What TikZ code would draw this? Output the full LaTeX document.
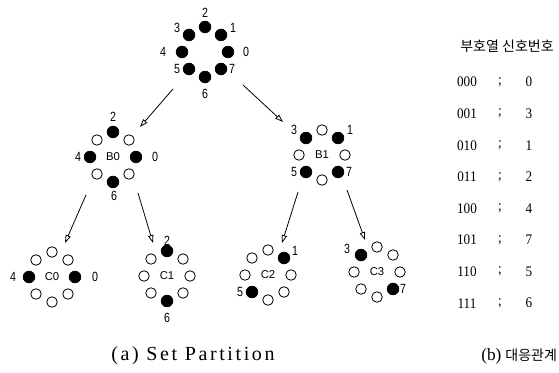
\documentclass[tikz,border=0pt]{standalone}
\usepackage{fontspec}
\setmainfont{Liberation Serif}
\newfontfamily\krfont{Noto Sans CJK KR}
\newfontfamily\lblfont[FakeStretch=0.8]{Liberation Sans}
\newfontfamily\ctrfont{Liberation Sans}
\newfontfamily\tblfont[FakeStretch=0.9]{Liberation Serif}
\newfontfamily\capfont[LetterSpace=13]{Liberation Serif}
\usetikzlibrary{arrows.meta,calc}

\tikzset{
  dotF/.style={circle, fill=black, draw=black, line width=0.5pt, inner sep=0pt, minimum size=8.8pt},
  dotO/.style={circle, fill=white, draw=black, line width=0.6pt, inner sep=0pt, minimum size=7.9pt},
  lbl/.style={inner sep=0pt, font=\lblfont\fontsize{10}{10}\selectfont},
  ctr/.style={inner sep=0pt, font=\ctrfont\fontsize{8.5}{8.5}\selectfont},
  arr/.style={draw, line width=0.6pt, -{Triangle[open,length=6pt,width=4pt]}},
  tbl/.style={inner sep=0pt, font=\tblfont\fontsize{11}{11}\selectfont},
  krhead/.style={inner sep=0pt, font=\krfont\fontsize{10.5}{10.5}\selectfont},
  captxt/.style={inner sep=0pt, font=\capfont\fontsize{15}{15}\selectfont},
}

% name, cx, cy, mask of filled dots, centre text
\newcommand\ringgroup[5]{%
  \foreach \k/\dx/\dy in {0/23/0,1/16/-17,2/0/-25,3/-16/-17,4/-23/0,5/-16/17,6/0/25,7/16/17}{
    \pgfmathtruncatemacro\bit{mod(floor(#4/(2^\k)),2)}
    \ifnum\bit=1
      \node[dotF] (#1d\k) at ({#2+\dx},{#3+\dy}) {};
    \else
      \node[dotO] (#1d\k) at ({#2+\dx},{#3+\dy}) {};
    \fi
  }
  \node[ctr] (#1) at (#2,#3) {#5};
}

\begin{document}
\begin{tikzpicture}[x=0.75pt,y=-0.75pt]
\useasboundingbox (0,0) rectangle (559,373);

% ---- groups ----
\ringgroup{T}{205}{52}{255}{}
\ringgroup{B0}{113}{157}{85}{B0}
\ringgroup{B1}{322}{155}{170}{B1}
\ringgroup{C0}{52}{277}{17}{C0}
\ringgroup{C1}{167}{276}{68}{C1}
\ringgroup{C2}{268}{275}{34}{C2}
\ringgroup{C3}{377}{272}{136}{C3}

% ---- dot labels ----
\node[lbl] (Tl2) at ($(Td2)+(0,-14)$) {2};
\node[lbl] (Tl1) at ($(Td1)+(12,-7)$) {1};
\node[lbl] (Tl0) at ($(Td0)+(18,0)$) {0};
\node[lbl] (Tl7) at ($(Td7)+(11,0)$) {7};
\node[lbl] (Tl6) at ($(Td6)+(0,17)$) {6};
\node[lbl] (Tl5) at ($(Td5)+(-12,0)$) {5};
\node[lbl] (Tl4) at ($(Td4)+(-19,0)$) {4};
\node[lbl] (Tl3) at ($(Td3)+(-12,-7)$) {3};

\node[lbl] (B0l2) at ($(B0d2)+(0,-15)$) {2};
\node[lbl] (B0l4) at ($(B0d4)+(-12,0)$) {4};
\node[lbl] (B0l0) at ($(B0d0)+(19,0)$) {0};
\node[lbl] (B0l6) at ($(B0d6)+(1,14)$) {6};

\node[lbl] (B1l3) at ($(B1d3)+(-12,-8)$) {3};
\node[lbl] (B1l1) at ($(B1d1)+(12,-8)$) {1};
\node[lbl] (B1l5) at ($(B1d5)+(-12,0)$) {5};
\node[lbl] (B1l7) at ($(B1d7)+(11,0)$) {7};

\node[lbl] (C0l4) at ($(C0d4)+(-16,0)$) {4};
\node[lbl] (C0l0) at ($(C0d0)+(20,0)$) {0};

\node[lbl] (C1l2) at ($(C1d2)+(0,-10)$) {2};
\node[lbl] (C1l6) at ($(C1d6)+(0,17)$) {6};

\node[lbl] (C2l1) at ($(C2d1)+(11,-7)$) {1};
\node[lbl] (C2l5) at ($(C2d5)+(-12,0)$) {5};

\node[lbl] (C3l3) at ($(C3d3)+(-14,-6)$) {3};
\node[lbl] (C3l7) at ($(C3d7)+(10,0)$) {7};

% ---- arrows ----
\coordinate (a1s) at (173,89);  \coordinate (a1e) at (140,127);
\coordinate (a2s) at (243,85);  \coordinate (a2e) at (283,122);
\coordinate (a3s) at (86,195);  \coordinate (a3e) at (65,243);
\coordinate (a4s) at (138,193); \coordinate (a4e) at (153,243);
\coordinate (a5s) at (298,192); \coordinate (a5e) at (282,243);
\coordinate (a6s) at (347,190); \coordinate (a6e) at (365,240);
\draw[arr] (a1s) -- (a1e);
\draw[arr] (a2s) -- (a2e);
\draw[arr] (a3s) -- (a3e);
\draw[arr] (a4s) -- (a4e);
\draw[arr] (a5s) -- (a5e);
\draw[arr] (a6s) -- (a6e);

% ---- table ----
\node[krhead] (head) at (507,46) {부호열 신호번호};
\foreach \i/\c/\v in {0/000/0,1/001/3,2/010/1,3/011/2,4/100/4,5/101/7,6/110/5,7/111/6}{
  \node[tbl] (r\i c) at (467,{82+31.6*\i}) {\c};
  \node[tbl] (r\i s) at (500,{82+31.6*\i}) {;};
  \node[tbl] (r\i v) at (529,{82+31.6*\i}) {\v};
}

% ---- captions ----
\node[captxt] (capa) at (193,356) {(a) Set Partition};
\node[inner sep=0pt, anchor=west] (capb) at (481,356)
  {\fontsize{13}{13}\selectfont (b)\hspace{3pt}{\krfont\fontsize{10.5}{10.5}\selectfont 대응관계}};
\end{tikzpicture}
\end{document}
